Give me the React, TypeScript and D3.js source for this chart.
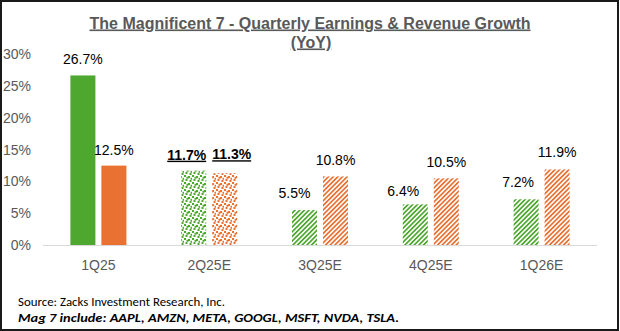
import React from "react";
import * as d3 from "d3";

// ---- data ----
const categories = ["1Q25", "2Q25E", "3Q25E", "4Q25E", "1Q26E"];
const earningsGrowth = [26.7, 11.7, 5.5, 6.4, 7.2];
const revenueGrowth = [12.5, 11.3, 10.8, 10.5, 11.9];
const yTicks = [0, 5, 10, 15, 20, 25, 30];
const titleLines = ["The Magnificent 7 - Quarterly Earnings & Revenue Growth", "(YoY)"];
const sourceText = "Source: Zacks Investment Research, Inc.";
const noteText = "Mag 7 include: AAPL, AMZN, META, GOOGL, MSFT, NVDA, TSLA.";
// fill style per category: solid (actual), dots (current estimate), stripes (future estimate)
const fillKinds = ["solid", "dots", "stripes", "stripes", "stripes"];
const emphasized = [false, true, false, false, false];

const W = 620;
const H = 331;
const GREEN = "#4EA72E";
const ORANGE = "#E97132";
const GRAY = "#595959";

// label nudges (presentation only)
const earnNudge = [
  [0, 0],
  [-7, 0],
  [-10, -1],
  [-12, 3],
  [-8, -1],
];
const revNudge = [
  [0, 0],
  [7, -3],
  [0, 0],
  [0, 0],
  [0, -1],
];

export default function App() {
  const x0 = d3.scaleBand<string>().domain(categories).range([43, 597]).padding(0);
  const series = ["earnings", "revenue"];
  const x1 = d3.scaleBand<string>().domain(series).range([0, 56]).paddingInner(0.1935).paddingOuter(0);
  const y = d3.scaleLinear().domain([0, 30]).range([245, 54.5]);
  const groupLeft = (c: string) => (x0(c) as number) + x0.bandwidth() / 2 - 28;

  const fillFor = (kind: string, color: "g" | "o") => {
    if (kind === "solid") return color === "g" ? GREEN : ORANGE;
    if (kind === "dots") return `url(#dots-${color})`;
    return `url(#stripes-${color})`;
  };

  const squares = [
    [0, 0],
    [4, 1],
    [1.5, 4],
    [5.5, 5],
    [2.5, 1.8],
    [6.5, 2.8],
  ];

  return (
    <svg
      width={W}
      height={H}
      style={{ position: "absolute", left: 0, top: 0, background: "#fff" }}
      fontFamily="'Liberation Sans', Arial, sans-serif"
    >
      <defs>
        {([
          ["g", GREEN],
          ["o", ORANGE],
        ] as const).map(([k, c]) => (
          <React.Fragment key={k}>
            <pattern id={`stripes-${k}`} patternUnits="userSpaceOnUse" width={3.3} height={3.3} patternTransform="rotate(45)">
              <rect width={3.3} height={3.3} fill="#fff" />
              <rect x={0} y={0} width={1.7} height={3.3} fill={c} />
            </pattern>
            <pattern id={`dots-${k}`} patternUnits="userSpaceOnUse" width={8} height={7}>
              <rect width={8} height={7} fill="#fff" />
              {squares.map(([sx, sy], i) => (
                <rect key={i} x={sx} y={sy} width={2} height={2} fill={c} />
              ))}
            </pattern>
          </React.Fragment>
        ))}
      </defs>
      <rect x={0} y={0} width={W} height={H} fill="#fff" />

      {/* title */}
      <text x={310} y={28.5} textAnchor="middle" fontSize={16} fontWeight="bold" fill={GRAY} textDecoration="underline">
        {titleLines[0]}
      </text>
      <text x={311} y={47.5} textAnchor="middle" fontSize={16} fontWeight="bold" fill={GRAY} textDecoration="underline">
        {titleLines[1]}
      </text>

      {/* y axis labels */}
      {yTicks.map((t) => (
        <text key={t} x={31} y={y(t)} dy="0.35em" textAnchor="end" fontSize={14} fill={GRAY}>
          {`${t}%`}
        </text>
      ))}

      {/* bars */}
      {categories.map((c, i) => {
        const gl = groupLeft(c);
        const ex = gl + (x1("earnings") as number);
        const rx = gl + (x1("revenue") as number);
        const bw = x1.bandwidth();
        const ey = y(earningsGrowth[i]);
        const ry = y(revenueGrowth[i]);
        return (
          <g key={c}>
            <rect x={ex} y={ey} width={bw} height={y(0) - ey} fill={fillFor(fillKinds[i], "g")} />
            <rect x={rx} y={ry} width={bw} height={y(0) - ry} fill={fillFor(fillKinds[i], "o")} />
          </g>
        );
      })}

      {/* x axis line */}
      <line x1={x0.range()[0]} x2={x0.range()[1]} y1={y(0) + 0.5} y2={y(0) + 0.5} stroke="#d9d9d9" strokeWidth={1} />

      {/* data labels */}
      {categories.map((c, i) => {
        const gl = groupLeft(c);
        const bw = x1.bandwidth();
        const ex = gl + (x1("earnings") as number) + bw / 2;
        const rx = gl + (x1("revenue") as number) + bw / 2;
        const em = emphasized[i];
        const common = {
          fontSize: 14,
          textAnchor: "middle" as const,
          fill: "#000",
          fontWeight: em ? "bold" : "normal",
          textDecoration: em ? "underline" : "none",
        };
        return (
          <g key={c}>
            <text x={ex + earnNudge[i][0]} y={y(earningsGrowth[i]) - 11 + earnNudge[i][1]} {...common}>
              {`${earningsGrowth[i].toFixed(1)}%`}
            </text>
            <text x={rx + revNudge[i][0]} y={y(revenueGrowth[i]) - 11 + revNudge[i][1]} {...common}>
              {`${revenueGrowth[i].toFixed(1)}%`}
            </text>
          </g>
        );
      })}

      {/* category labels */}
      {categories.map((c) => (
        <text key={c} x={(x0(c) as number) + x0.bandwidth() / 2} y={270} textAnchor="middle" fontSize={14} fill={GRAY}>
          {c}
        </text>
      ))}

      {/* footer */}
      <text
        x={18}
        y={305.5}
        fontSize={12.8}
        fontFamily="Carlito, Lato, 'Open Sans', sans-serif"
        fill="#000"
        textLength={207}
        lengthAdjust="spacingAndGlyphs"
      >
        {sourceText}
      </text>
      <text
        x={18}
        y={322}
        fontSize={12.8}
        fontFamily="Carlito, Lato, 'Open Sans', sans-serif"
        fontWeight="bold"
        fontStyle="italic"
        fill="#000"
        textLength={381}
        lengthAdjust="spacingAndGlyphs"
      >
        {noteText}
      </text>

      {/* frame */}
      <rect x={1} y={1} width={617} height={329} fill="none" stroke="#1a1a1a" strokeWidth={2} />
    </svg>
  );
}
